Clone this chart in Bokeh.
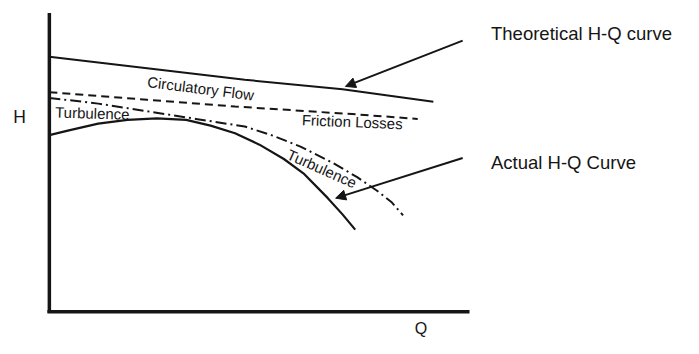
from bokeh.plotting import figure
from bokeh.models import Range1d, ColumnDataSource, Arrow, NormalHead
from bokeh.embed import file_html
from bokeh.resources import INLINE
from bokeh.core.properties import value

# Schematic pump H-Q diagram (Q = flow, H = head), arbitrary units
theo_q = [0, 100, 200, 300, 393]
theo_h = [267, 255, 243, 233, 220]

friction_q = [0, 100, 190, 250, 310, 377]
friction_h = [230, 222, 215, 211, 207, 202]

turb_q = [0, 50, 100, 150, 200, 230, 257, 290, 315, 335, 350, 362]
turb_h = [224, 218, 210, 202, 194, 184, 173, 156, 141, 127, 115, 101]

actual_q = [0, 20, 50, 80, 110, 140, 165, 190, 215, 240, 260, 285, 300, 313]
actual_h = [185, 190, 197, 201, 202.5, 201, 195, 187, 175, 160, 145, 119, 102, 86]

# axes lines
vaxis_q = [0, 0]
vaxis_h = [313, -1]
haxis_q = [-2, 430]
haxis_h = [0, 0]

# annotation arrows
arrow_q0 = [423, 423]
arrow_h0 = [284, 161]
arrow_q1 = [303, 293]
arrow_h1 = [236, 119]

# big labels
big_text = ["Theoretical H-Q curve", "Actual H-Q Curve"]
big_q = [452, 452]
big_h = [291, 156]

axis_text = ["H", "Q"]
axis_q = [-37, 374]
axis_h = [204, -18]
axis_size = ["17.5px", "16px"]

# curve labels
lab_text = ["Circulatory Flow", "Friction Losses", "Turbulence", "Turbulence"]
lab_q = [155, 310, 44, 279]
lab_h = [234, 199, 208, 150]
lab_angle = [-0.125, -0.04, -0.03, -0.42]

INK = "#151515"
FONT = value("Liberation Sans")

p = figure(width=683, height=338, x_range=Range1d(-50, 649), y_range=Range1d(-28, 326),
           output_backend="svg", toolbar_location=None, min_border=0,
           x_axis_location=None, y_axis_location=None)
p.grid.visible = False
p.outline_line_color = None
p.background_fill_color = "white"

p.line(vaxis_q, vaxis_h, line_color=INK, line_width=3.5)
p.line(haxis_q, haxis_h, line_color=INK, line_width=3.5)

p.line(theo_q, theo_h, line_color=INK, line_width=2)
p.line(friction_q, friction_h, line_color=INK, line_width=2, line_dash="8 5")
p.line(turb_q, turb_h, line_color=INK, line_width=2, line_dash="11 4 2 4")
p.line(actual_q, actual_h, line_color=INK, line_width=2.2)

asrc = ColumnDataSource(dict(x0=arrow_q0, y0=arrow_h0, x1=arrow_q1, y1=arrow_h1))
p.add_layout(Arrow(end=NormalHead(size=10, fill_color=INK, line_color=INK, line_width=1),
                   x_start="x0", y_start="y0", x_end="x1", y_end="y1",
                   source=asrc, line_color=INK, line_width=2))

p.text(x=big_q, y=big_h, text=big_text, text_font=FONT, text_font_size="18.5px",
       text_color=INK, text_align="left", text_baseline="alphabetic")
axsrc = ColumnDataSource(dict(x=axis_q, y=axis_h, t=axis_text, s=axis_size))
p.text(x="x", y="y", text="t", text_font_size="s", source=axsrc, text_font=FONT,
       text_color=INK, text_align="left", text_baseline="alphabetic")
p.text(x=lab_q, y=lab_h, text=lab_text, angle=lab_angle, text_font=FONT,
       text_font_size="15px", text_color=INK, text_align="center", text_baseline="middle")

open("out.html", "w").write(file_html(p, INLINE))
